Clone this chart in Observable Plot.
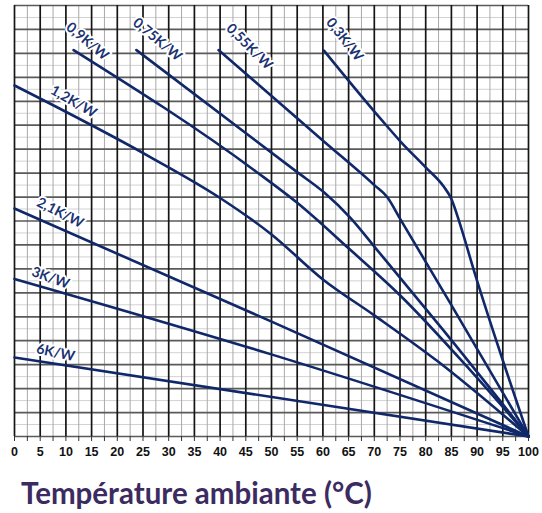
<!DOCTYPE html>
<html>
<head>
<meta charset="utf-8">
<script src="https://cdn.jsdelivr.net/npm/d3@7"></script>
<script src="https://cdn.jsdelivr.net/npm/@observablehq/plot@0.6"></script>
<style>
  body { margin: 0; background: #fff; }
  #title { font-family: Lato, "Open Sans", sans-serif; font-weight: 700; font-size: 29.5px; color: #3b2b60; margin: 5px 0 0 21px; line-height: 32px; white-space: nowrap; }
</style>
</head>
<body>
<div id="chart"></div>
<div id="title">Température ambiante (°C)</div>
<script>
// x: ambient temperature (°C); y: grid units (5 per major line), unlabelled
const xTicks = [0,5,10,15,20,25,30,35,40,45,50,55,60,65,70,75,80,85,90,95,100];

const seriesNames = ["0,3K/W","0,55K/W","0,75K/W","0,9K/W","1,2K/W","2,1K/W","3K/W","6K/W"];

const t03  = [60.2, 71.5, 75.1, 80.0, 83.5, 85.0, 86.4, 89.4, 100];
const p03  = [80.6, 66.0, 61.6, 56.2, 52.2, 49.6, 45.3, 34.6, 0];

const t055 = [39.7, 60.2, 70.0, 72.5, 75.0, 84.8, 100];
const p055 = [80.7, 61.6, 52.5, 50.0, 45.5, 27.8, 0];

const t075 = [23.7, 55.0, 60.2, 65.4, 70.2, 83.5, 100];
const p075 = [80.7, 55.2, 51.0, 45.6, 39.4, 22.1, 0];

const t09  = [11.5, 46.9, 55.0, 65.0, 75.0, 88.7, 100];
const p09  = [80.7, 55.4, 48.8, 39.3, 29.5, 13.8, 0];

const t12  = [0, 26.5, 40.0, 50.0, 60.0, 70.0, 82.2, 100];
const p12  = [73.3, 58.3, 49.8, 42.2, 32.8, 25.3, 15.8, 0];

const t21  = [0, 49.8, 100];
const p21  = [47.6, 24.1, 0];

const t3   = [0, 49.8, 100];
const p3   = [32.9, 17.2, 0];

const t6   = [0, 100];
const p6   = [16.5, 0];

const seriesT = [t03, t055, t075, t09, t12, t21, t3, t6];
const seriesP = [p03, p055, p075, p09, p12, p21, p3, p6];

// label anchors (data coords) and text angle along each curve
const labelX     = [64.2, 45.7, 27.8, 14.2, 11.5, 8.9, 7.0, 8.0];
const labelY     = [82.9, 81.4, 82.9, 82.5, 69.9, 46.7, 33.1, 17.5];
const labelAngle = [52, 45, 40, 40, 30, 27, 20, 12];

const rows = seriesNames.flatMap((name, i) =>
  seriesT[i].map((t, j) => ({series: name, t, p: seriesP[i][j]})));
const labels = seriesNames.map((name, i) =>
  ({name, x: labelX[i], y: labelY[i], a: labelAngle[i]}));

const majorX = d3.range(0, 100.01, 5);
const minorX = d3.range(2.5, 100, 5);
const majorY = d3.range(0, 90.01, 5);
const minorY = d3.range(2.5, 90, 5);
const allXTicks = d3.range(0, 100.01, 2.5);

const navy = "#10286a";

const chart = Plot.plot({
  width: 542,
  height: 472,
  marginLeft: 14,
  marginRight: 14,
  marginTop: 5,
  marginBottom: 36,
  x: {domain: [0, 100]},
  y: {domain: [0, 90], axis: null},
  marks: [
    Plot.ruleY(minorY, {stroke: "#d2d2d2", strokeWidth: 1}),
    Plot.ruleX(minorX, {stroke: "#a8a8a8", strokeWidth: 1}),
    Plot.ruleY(majorY, {stroke: "#5a5a5a", strokeWidth: 1.7}),
    Plot.ruleX(majorX, {stroke: "#151515", strokeWidth: 1.7}),
    Plot.axisX(allXTicks, {
      tickSize: 5, tickPadding: 6, stroke: "#333",
      tickFormat: d => xTicks.includes(d) ? String(d) : "",
      fontSize: 12.5, fontWeight: "bold", fill: "#111",
      fontFamily: "Liberation Sans, Arial, sans-serif"
    }),
    Plot.line(rows, {x: "t", y: "p", z: "series", stroke: navy, strokeWidth: 2.6, curve: "monotone-x"}),
    Plot.text(labels, {
      x: "x", y: "y", text: "name", rotate: "a",
      fill: "#1a3274", stroke: "white", strokeWidth: 4,
      fontSize: 14, fontWeight: "bold",
      fontFamily: "Lato, Open Sans, sans-serif"
    })
  ]
});
chart.style.fontFamily = "Liberation Sans, Arial, sans-serif";
document.getElementById("chart").appendChild(chart);
</script>
</body>
</html>
